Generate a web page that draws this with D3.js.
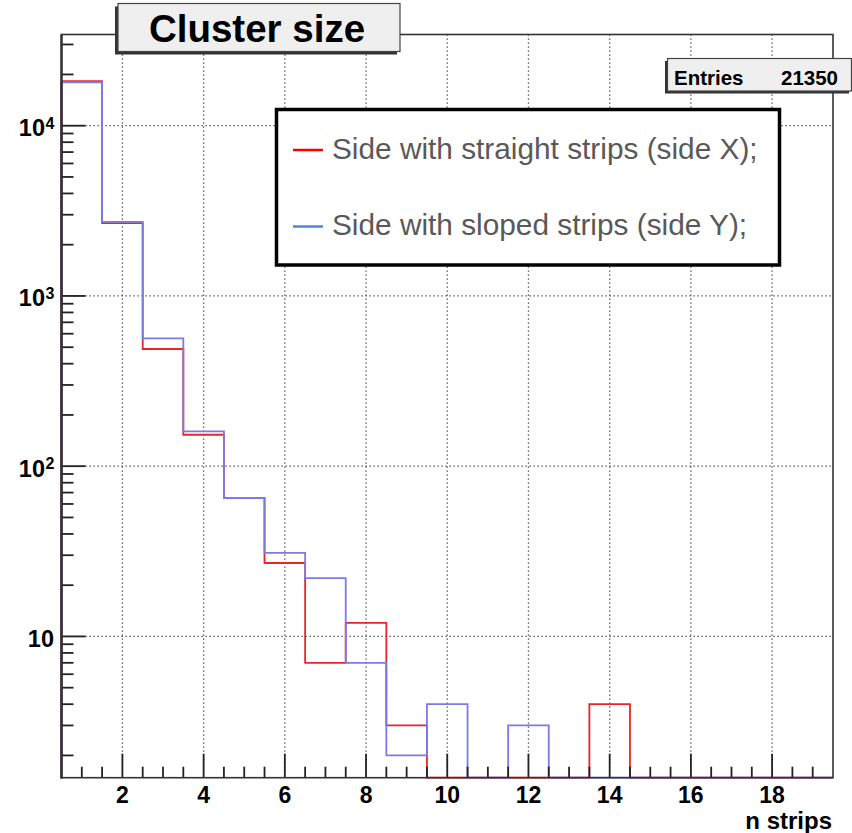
<!DOCTYPE html>
<html>
<head>
<meta charset="utf-8">
<script src="https://cdn.jsdelivr.net/npm/d3@7"></script>
<style>
  body { margin: 0; background: white; }
  text { font-family: "Liberation Sans", Arial, sans-serif; }
</style>
</head>
<body>
<div id="chart"></div>
<script>
// bin centres (n strips) and counts per side
var bins = [1, 2, 3, 4, 5, 6, 7, 8, 9, 10, 11, 12, 13, 14, 15, 16, 17, 18, 19]
var sideX = [18250, 2680, 488, 153, 65, 27, 7, 12, 3, 0, 0, 0, 0, 4, 0, 0, 0, 0, 0]
var sideY = [18000, 2720, 564, 160, 65, 31, 22, 7, 2, 4, 0, 3, 0, 0, 0, 0, 0, 0, 0]
var xTickLabels = [2, 4, 6, 8, 10, 12, 14, 16, 18]
var yDecades = [1, 2, 3, 4]
var legendNames = ["Side with straight strips (side X);", "Side with sloped strips (side Y);"]
var entries = 21350

var width = 852, height = 833
var yMin = 1.48, yMax = 34330

var svg = d3.select("#chart")
    .append("svg")
    .attr("width", width)
    .attr("height", height)

var xScale = d3.scaleLinear()
    .domain([0.5, 19.5])
    .range([61.5, 833])
var yScale = d3.scaleLog()
    .domain([yMin, yMax])
    .range([777.7, 34.5])

// Grid
var gridG = svg.append("g")
gridG.selectAll("xgrid")
    .data(xTickLabels)
    .enter()
    .append("line")
    .attr("x1", function (d) { return xScale(d) })
    .attr("x2", function (d) { return xScale(d) })
    .attr("y1", yScale.range()[1])
    .attr("y2", yScale.range()[0])
    .attr("stroke", "#444")
    .attr("stroke-width", 1.3)
    .attr("stroke-dasharray", "1.3,2.7")
gridG.selectAll("ygrid")
    .data(yDecades)
    .enter()
    .append("line")
    .attr("x1", xScale.range()[0])
    .attr("x2", xScale.range()[1])
    .attr("y1", function (d) { return yScale(Math.pow(10, d)) })
    .attr("y2", function (d) { return yScale(Math.pow(10, d)) })
    .attr("stroke", "#444")
    .attr("stroke-width", 1.3)
    .attr("stroke-dasharray", "1.3,2.7")

// Histogram outlines
function stepPoints(values) {
    var pts = [[0.5, yMin]]
    for (var i = 0; i < bins.length; i++) {
        var v = values[i] > yMin ? values[i] : yMin
        pts.push([bins[i] - 0.5, v])
        pts.push([bins[i] + 0.5, v])
    }
    pts.push([19.5, yMin])
    return pts
}
var line = d3.line()
    .x(function (d) { return xScale(d[0]) })
    .y(function (d) { return yScale(d[1]) })

svg.append("path")
    .attr("d", line(stepPoints(sideX)))
    .attr("fill", "none")
    .attr("stroke", "#e8262a")
    .attr("stroke-width", 1.8)
svg.append("path")
    .attr("d", line(stepPoints(sideY)))
    .attr("fill", "none")
    .attr("stroke", "#7b7be6")
    .attr("stroke-width", 1.8)

// Axes: ticks drawn inward like ROOT
var xMinor = d3.range(1, 19.01, 0.5)
svg.append("g").selectAll("xminor")
    .data(xMinor)
    .enter()
    .append("line")
    .attr("x1", function (d) { return xScale(d) })
    .attr("x2", function (d) { return xScale(d) })
    .attr("y1", yScale.range()[0])
    .attr("y2", function (d) { return yScale.range()[0] - (d % 2 == 0 ? 24 : 11) })
    .attr("stroke", "#222")
    .attr("stroke-width", 1.8)

var yMinor = []
for (var e = 0; e <= 4; e++) {
    for (var m = 1; m < 10; m++) {
        var v = m * Math.pow(10, e)
        if (v >= yMin && v <= yMax) yMinor.push(v)
    }
}
svg.append("g").selectAll("yminor")
    .data(yMinor)
    .enter()
    .append("line")
    .attr("x1", xScale.range()[0])
    .attr("x2", function (d) { return xScale.range()[0] + (Math.abs(Math.log10(d) % 1) < 1e-9 ? 24 : 12) })
    .attr("y1", function (d) { return yScale(d) })
    .attr("y2", function (d) { return yScale(d) })
    .attr("stroke", "#222")
    .attr("stroke-width", 1.8)

// Frame
svg.append("rect")
    .attr("x", xScale.range()[0])
    .attr("y", yScale.range()[1])
    .attr("width", xScale.range()[1] - xScale.range()[0])
    .attr("height", yScale.range()[0] - yScale.range()[1])
    .attr("fill", "none")
    .attr("stroke", "#333")
    .attr("stroke-width", 1.6)
svg.append("line")
    .attr("x1", xScale.range()[0]).attr("x2", xScale.range()[0])
    .attr("y1", yScale.range()[1]).attr("y2", yScale.range()[0] + 1)
    .attr("stroke", "#333")
    .attr("stroke-width", 2.4)

// X labels
svg.append("g").selectAll("xlab")
    .data(xTickLabels)
    .enter()
    .append("text")
    .attr("x", function (d) { return xScale(d) })
    .attr("y", 803)
    .attr("text-anchor", "middle")
    .style("font-size", "23px")
    .style("font-weight", "bold")
    .text(function (d) { return d })

svg.append("text")
    .attr("x", 832)
    .attr("y", 829)
    .attr("text-anchor", "end")
    .style("font-size", "24px")
    .style("font-weight", "bold")
    .text("n strips")

// Y labels
svg.append("g").selectAll("ylab")
    .data(yDecades)
    .enter()
    .append("text")
    .attr("x", function (d) { return d == 1 ? 54 : 45 })
    .attr("y", function (d) { return yScale(Math.pow(10, d)) + 10.5 })
    .attr("text-anchor", "end")
    .style("font-size", "23.5px")
    .style("font-weight", "bold")
    .text("10")
svg.append("g").selectAll("ysup")
    .data(yDecades.filter(function (d) { return d > 1 }))
    .enter()
    .append("text")
    .attr("x", 45.5)
    .attr("y", function (d) { return yScale(Math.pow(10, d)) + 3 })
    .style("font-size", "16px")
    .style("font-weight", "bold")
    .text(function (d) { return d })

// Title box
svg.append("rect")
    .attr("x", 115).attr("y", 6.5)
    .attr("width", 282).attr("height", 48)
    .attr("fill", "#333")
svg.append("rect")
    .attr("x", 118).attr("y", 3.5)
    .attr("width", 282).attr("height", 48)
    .attr("fill", "#efefef")
    .attr("stroke", "#444")
    .attr("stroke-width", 1.2)
svg.append("text")
    .attr("x", 257).attr("y", 41.5)
    .attr("text-anchor", "middle")
    .style("font-size", "38.5px")
    .style("font-weight", "bold")
    .text("Cluster size")

// Stats box
svg.append("rect")
    .attr("x", 665).attr("y", 61)
    .attr("width", 184).attr("height", 32.5)
    .attr("fill", "#333")
svg.append("rect")
    .attr("x", 667.5).attr("y", 58.5)
    .attr("width", 184).attr("height", 32.5)
    .attr("fill", "#efefef")
    .attr("stroke", "#444")
    .attr("stroke-width", 1.2)
svg.append("text")
    .attr("x", 674).attr("y", 84.5)
    .style("font-size", "20.5px")
    .style("font-weight", "bold")
    .text("Entries")
svg.append("text")
    .attr("x", 838).attr("y", 84.5)
    .attr("text-anchor", "end")
    .style("font-size", "20.5px")
    .style("font-weight", "bold")
    .text(entries)

// Legend
var legendColors = ["#ff0000", "#4a86e8"]
svg.append("rect")
    .attr("x", 276.5).attr("y", 109.5)
    .attr("width", 503).attr("height", 155.5)
    .attr("fill", "white")
    .attr("stroke", "black")
    .attr("stroke-width", 3.5)
var size = 76.5
svg.selectAll("legline")
    .data(legendNames)
    .enter()
    .append("line")
    .attr("x1", 293).attr("x2", 323)
    .attr("y1", function (d, i) { return 150 + i * size })
    .attr("y2", function (d, i) { return 150 + i * size })
    .attr("stroke", function (d, i) { return legendColors[i] })
    .attr("stroke-width", 2.5)
svg.selectAll("leglabel")
    .data(legendNames)
    .enter()
    .append("text")
    .attr("x", 332)
    .attr("y", function (d, i) { return 158.5 + i * size })
    .style("font-size", "29.8px")
    .style("fill", "#595959")
    .text(function (d) { return d })
</script>
</body>
</html>
